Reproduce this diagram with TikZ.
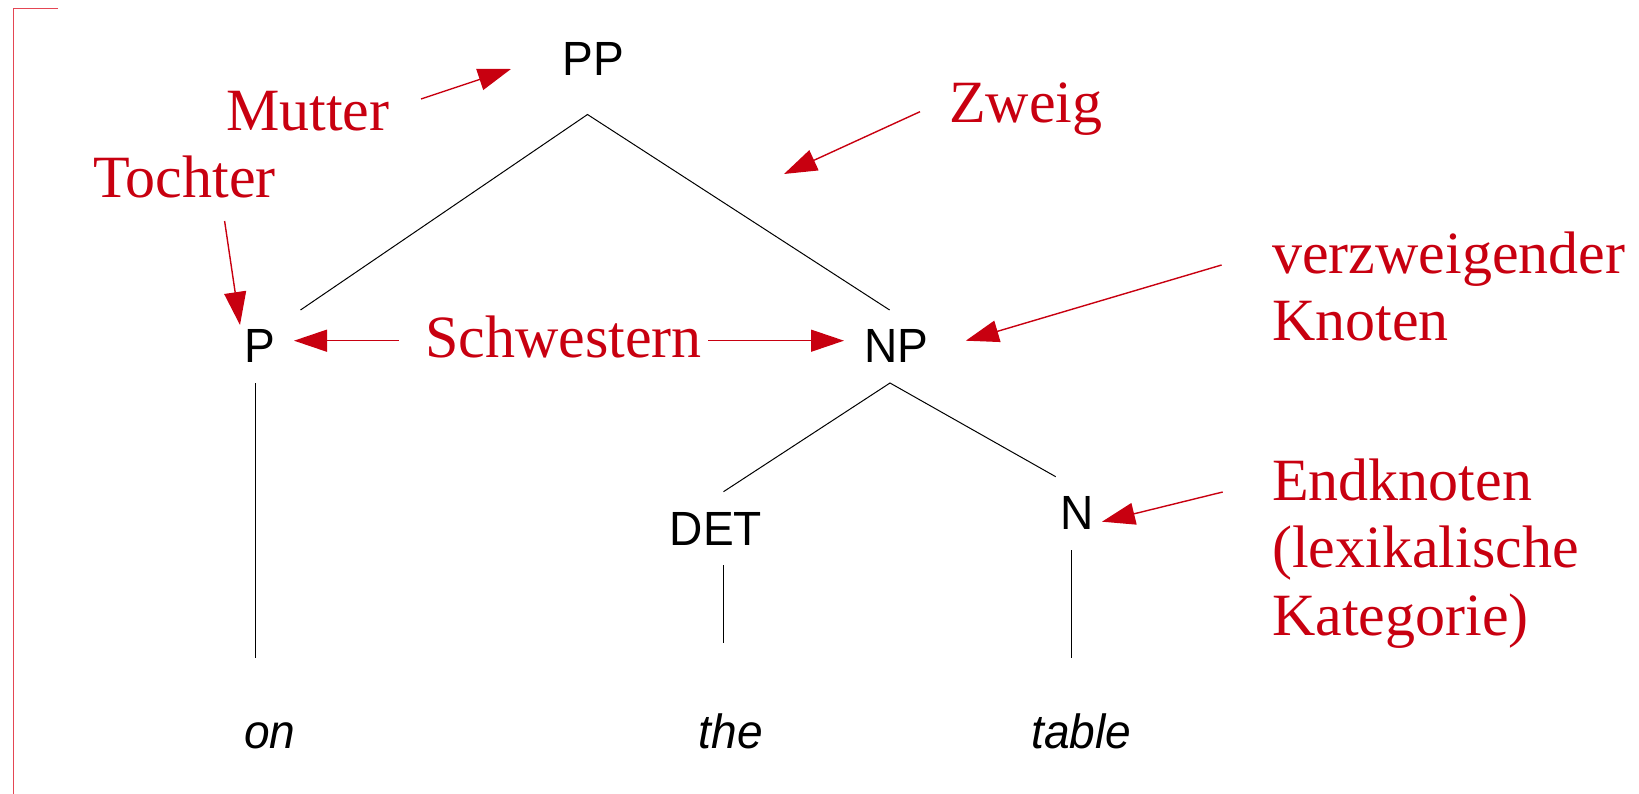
\documentclass[tikz,border=0pt]{standalone}
\usepackage{fontspec}
\setmainfont{Liberation Serif}
\newfontfamily\arialfont[FakeStretch=0.96]{Liberation Sans}
\usetikzlibrary{arrows.meta}
\definecolor{annred}{RGB}{200,0,16}
\definecolor{bracketred}{RGB}{228,70,84}
\tikzset{
  cat/.style={inner sep=0pt, anchor=base, font=\arialfont\fontsize{48}{56}\selectfont},
  word/.style={inner sep=0pt, anchor=base, font=\arialfont\itshape\fontsize{48}{56}\selectfont},
  ann/.style={inner sep=0pt, anchor=base west, text=annred, font=\fontsize{60}{67}\selectfont},
  branch/.style={draw=black, line width=1pt},
  annarrow/.style={draw=annred, line width=1.4pt, -{Triangle[length=33pt,width=22pt]}},
}
\begin{document}
\begin{tikzpicture}[x=1pt,y=-1pt]
\useasboundingbox (0,0) rectangle (1639,794);
% bracket
\draw[bracketred, line width=1.2pt] (58,8.5) -- (13.5,8.5) -- (13.5,794);
% categories
\node[cat] (PP) at (593,76) {PP};
\node[cat] (P) at (259.5,362.7) {P};
\node[cat] (NP) at (896.6,362.7) {NP};
\node[cat] (DET) at (716,545) {DET};
\node[cat] (N) at (1077.5,529) {N};
\node[word] (on) at (270,748) {on};
\node[word] (the) at (731,748) {the};
\node[word] (table) at (1081.5,748) {table};
% branch end points
\coordinate (PPb) at (587.5,114.5);
\coordinate (Pt) at (300.5,310);
\coordinate (NPt) at (889.6,310);
\coordinate (NPb) at (890,383);
\coordinate (DETt) at (723.5,491.7);
\coordinate (Nt) at (1055.7,476.7);
\coordinate (Pb) at (255,383);
\coordinate (onT) at (255,658);
\coordinate (DETb) at (723.5,565);
\coordinate (theT) at (723.5,643);
\coordinate (Nb) at (1071,550);
\coordinate (tableT) at (1071,658);
\draw[branch] (Pt) -- (PPb) -- (NPt);
\draw[branch] (DETt) -- (NPb) -- (Nt);
\draw[branch] (Pb) -- (onT);
\draw[branch] (DETb) -- (theT);
\draw[branch] (Nb) -- (tableT);
% annotations
\node[ann] (mutter) at (226,131) {Mutter};
\node[ann] (tochter) at (93,198) {Tochter};
\node[ann] (zweig) at (949,123) {Zweig};
\node[ann] (verz) at (1272,274) {verzweigender};
\node[ann] (knoten) at (1272,340.7) {Knoten};
\node[ann] (schw) at (425,357) {Schwestern};
\node[ann] (endk) at (1272,500.7) {Endknoten};
\node[ann] (lexk) at (1272,567) {(lexikalische};
\node[ann] (kateg) at (1272,635) {Kategorie)};
% arrow end points
\coordinate (muS) at (421,99);
\coordinate (muT) at (511,69);
\coordinate (toS) at (224.6,221);
\coordinate (toT) at (240,325);
\coordinate (swLS) at (398.8,340.7);
\coordinate (swLT) at (294,340.7);
\coordinate (swRS) at (708,340.7);
\coordinate (swRT) at (844,340.7);
\coordinate (zwS) at (920,111.7);
\coordinate (zwT) at (784,174);
\coordinate (vzS) at (1221.6,265);
\coordinate (vzT) at (965.8,340.7);
\coordinate (ekS) at (1222.7,492);
\coordinate (ekT) at (1102,521.7);
\draw[annarrow] (muS) -- (muT);
\draw[annarrow] (toS) -- (toT);
\draw[annarrow] (swLS) -- (swLT);
\draw[annarrow] (swRS) -- (swRT);
\draw[annarrow] (zwS) -- (zwT);
\draw[annarrow] (vzS) -- (vzT);
\draw[annarrow] (ekS) -- (ekT);
\end{tikzpicture}
\end{document}
